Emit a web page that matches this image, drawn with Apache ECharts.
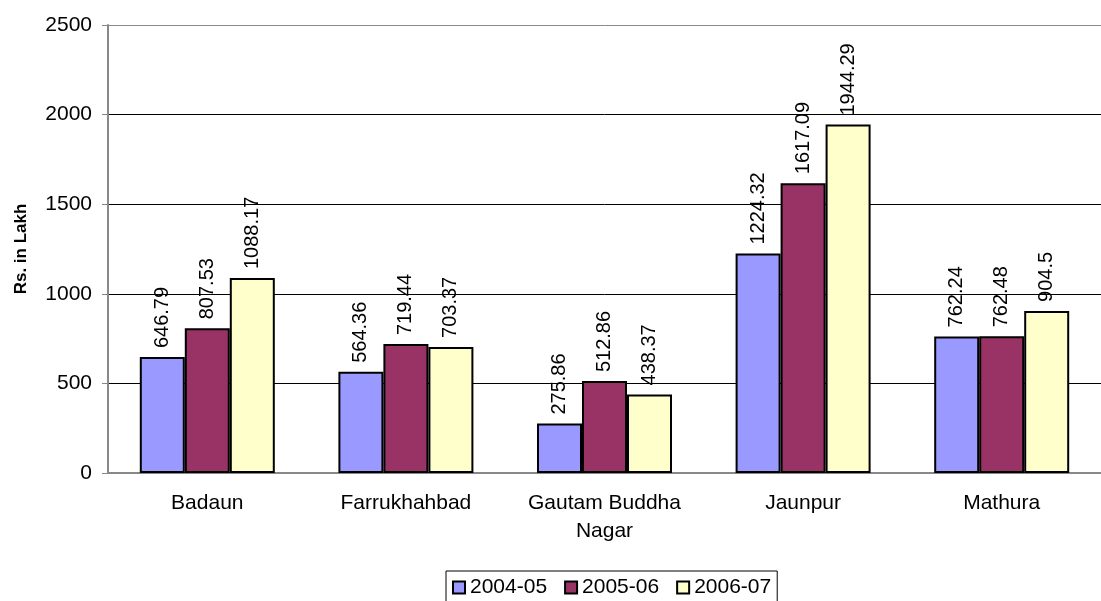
<!DOCTYPE html>
<html>
<head>
<meta charset="utf-8">
<script src="https://cdn.jsdelivr.net/npm/echarts@6/dist/echarts.min.js"></script>
<style>
  html, body { margin: 0; padding: 0; background: #fff; }
  #chart { width: 1101px; height: 601px; }
</style>
</head>
<body>
<div id="chart"></div>
<script>
const districts = ['Badaun', 'Farrukhahbad', 'Gautam Buddha\nNagar', 'Jaunpur', 'Mathura'];
const years = ['2004-05', '2005-06', '2006-07'];
const v2004 = [646.79, 564.36, 275.86, 1224.32, 762.24];
const v2005 = [807.53, 719.44, 512.86, 1617.09, 762.48];
const v2006 = [1088.17, 703.37, 438.37, 1944.29, 904.5];
const colors = ['#9999ff', '#993366', '#ffffcc'];

const font = 'Liberation Sans, Arial, sans-serif';
const chart = echarts.init(document.getElementById('chart'));

const mk = (name, data, color) => ({
  name, type: 'bar', data,
  barGap: '0%', barWidth: 45,
  itemStyle: { color, borderColor: '#000', borderWidth: 2 },
  label: {
    show: true, position: 'top', rotate: 90, align: 'left', verticalAlign: 'middle',
    distance: 9, color: '#000', fontFamily: font, fontSize: 20,
    formatter: p => String(p.value)
  }
});

chart.setOption({
  animation: false,
  grid: { left: 108, top: 25, width: 1005, height: 448, containLabel: false },
  legend: {
    top: 571, left: 446, itemGap: 17, itemWidth: 12, itemHeight: 12,
    borderColor: '#000', borderWidth: 1, padding: [6, 6, 6, 6],
    icon: 'rect',
    textStyle: { fontFamily: font, fontSize: 21, color: '#000' },
    itemStyle: { borderColor: '#000', borderWidth: 2 },
    data: years
  },
  xAxis: {
    type: 'category', data: districts,
    axisLine: { lineStyle: { color: '#888', width: 2 } },
    axisTick: { show: false },
    axisLabel: { interval: 0, fontFamily: font, fontSize: 21, color: '#000', margin: 16, lineHeight: 28 }
  },
  yAxis: {
    type: 'value', min: 0, max: 2500, interval: 500,
    name: 'Rs. in Lakh', nameLocation: 'middle', nameGap: 78, nameRotate: 90,
    nameTextStyle: { fontFamily: font, fontSize: 17, fontWeight: 'bold', color: '#000' },
    axisLine: { show: true, lineStyle: { color: '#888', width: 2 } },
    axisTick: { show: true, length: 6, lineStyle: { color: '#888' } },
    axisLabel: { fontFamily: font, fontSize: 21, color: '#000', margin: 16, formatter: v => String(v) },
    splitLine: { lineStyle: { color: ['#000', '#000', '#000', '#000', '#000', '#888'], width: 1 } }
  },
  series: [mk(years[0], v2004, colors[0]), mk(years[1], v2005, colors[1]), mk(years[2], v2006, colors[2])]
});
</script>
</body>
</html>
